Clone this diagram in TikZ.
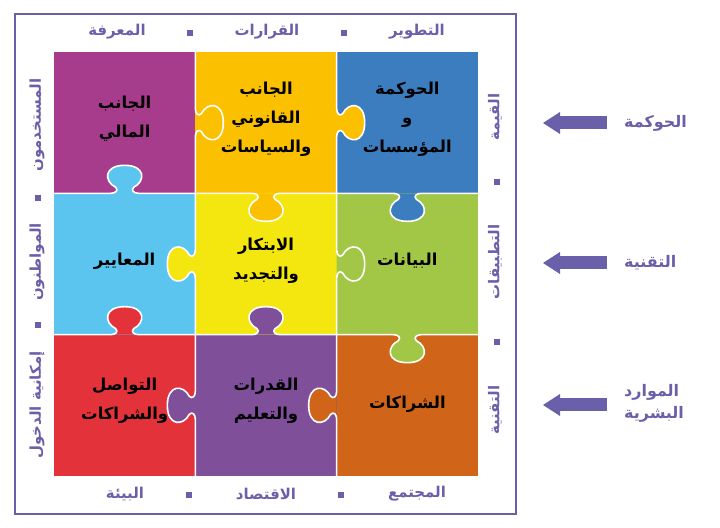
\documentclass[tikz,border=0pt]{standalone}
\usepackage{fontspec}
\usetikzlibrary{arrows.meta}
\TeXXeTstate=1
\newfontfamily\arabicfont[Script=Arabic]{DejaVu Sans}
\newcommand\artxt[1]{\beginR #1\endR}
\definecolor{pcMagenta}{HTML}{A83C8C}
\definecolor{pcAmber}{HTML}{FBC000}
\definecolor{pcBlue}{HTML}{3B7DBF}
\definecolor{pcSky}{HTML}{5BC5F0}
\definecolor{pcYellow}{HTML}{F4E60F}
\definecolor{pcGreen}{HTML}{A2C645}
\definecolor{pcRed}{HTML}{E3323A}
\definecolor{pcViolet}{HTML}{7F4F9A}
\definecolor{pcRust}{HTML}{D06418}
\definecolor{framePurple}{HTML}{6A60A9}

\begin{document}
\begin{tikzpicture}[x=1bp, y=1bp,
    celltext/.style={align=center, inner sep=0pt, text=black,
                     font=\arabicfont\bfseries\fontsize{16.5}{29}\selectfont},
    side/.style={inner sep=0pt, text=framePurple,
                 font=\arabicfont\bfseries\fontsize{15}{21}\selectfont},
    sq/.style={fill=framePurple, minimum size=5.5bp, inner sep=0pt},
    frame/.style={draw=framePurple, line width=2bp},
    seam/.style={draw=white, line width=1.6bp},
    knob/.style={insert path={.. controls (-9,0) and (-6,3) .. (-9,6)
                 .. controls (-21,12) and (-21,28) .. (0,28)
                 .. controls (21,28) and (21,12) .. (9,6)
                 .. controls (6,3) and (9,0) .. (14,0)}},
    bigarrow/.style={draw=framePurple, line width=13bp,
                     -{Triangle[length=17bp, width=22bp, line width=0pt]}}
    ]
  \useasboundingbox (0,0) rectangle (720,528);
  \draw[frame] (15,14) rectangle (516,514);

  %% puzzle cells
  \foreach \col/\cx/\cy in {pcMagenta/0/2, pcAmber/1/2, pcBlue/2/2,
                            pcSky/0/1, pcYellow/1/1, pcGreen/2/1,
                            pcRed/0/0, pcViolet/1/0, pcRust/2/0}
    \fill[\col] (54+141.33*\cx, 52+141.33*\cy) rectangle ++(141.33,141.33);

  %% tabs: x / y / turn / colour
  \foreach \kx/\ky/\kt/\kc in {124.67/334.67/0/pcSky, 266/334.67/180/pcAmber,
        407.33/334.67/180/pcBlue, 124.67/193.33/0/pcRed, 266/193.33/0/pcViolet,
        407.33/193.33/180/pcGreen, 195.33/405.33/-90/pcAmber,
        336.67/405.33/-90/pcAmber, 195.33/264/90/pcYellow,
        336.67/264/-90/pcGreen, 195.33/122.67/90/pcViolet,
        336.67/122.67/90/pcRust}
  {
    \begin{scope}[shift={(\kx,\ky)}, rotate=\kt]
      \fill[\kc] (-14,0) [knob] -- cycle;
      \draw[seam] (-70.67,0) -- (-14,0) [knob] -- (70.67,0);
    \end{scope}
  }

  %% texts of the pieces
  \node[celltext] (finance) at (124.67,409) {\artxt{الجانب}\\\artxt{المالي}};
  \node[celltext] (legal)   at (266,409)    {\artxt{الجانب}\\\artxt{القانوني}\\\artxt{والسياسات}};
  \node[celltext] (govern)  at (407.33,409) {\artxt{الحوكمة}\\\artxt{و}\\\artxt{المؤسسات}};
  \node[celltext] (norms)   at (124.67,267) {\artxt{المعايير}};
  \node[celltext] (innov)   at (266,267)    {\artxt{الابتكار}\\\artxt{والتجديد}};
  \node[celltext] (data)    at (407.33,267) {\artxt{البيانات}};
  \node[celltext] (comm)    at (124.67,127) {\artxt{التواصل}\\\artxt{والشراكات}};
  \node[celltext] (skills)  at (266,127)    {\artxt{القدرات}\\\artxt{والتعليم}};
  \node[celltext] (partner) at (407.33,124) {\artxt{الشراكات}};

  %% labels round the frame
  \node[side] (tKnow)  at (117,496) {\artxt{المعرفة}};
  \node[side] (tDecis) at (267,496) {\artxt{القرارات}};
  \node[side] (tDevel) at (417,496) {\artxt{التطوير}};
  \node[sq] (sqT1) at (190,495) {};
  \node[sq] (sqT2) at (344,495) {};
  \node[side] (bEnv)   at (125,34) {\artxt{البيئة}};
  \node[side] (bEcon)  at (266,34) {\artxt{الاقتصاد}};
  \node[side] (bSoc)   at (417,34) {\artxt{المجتمع}};
  \node[sq] (sqB1) at (189,33) {};
  \node[sq] (sqB2) at (341,33) {};
  \node[side, rotate=90] (lUsers)  at (37,403) {\artxt{المستخدمون}};
  \node[side, rotate=90] (lCitiz)  at (37,266) {\artxt{المواطنون}};
  \node[side, rotate=90] (lAccess) at (37,123) {\artxt{إمكانية الدخول}};
  \node[sq] (sqL1) at (38,330) {};
  \node[sq] (sqL2) at (38,203) {};
  \node[side, rotate=90] (rValue) at (495,411) {\artxt{القيمة}};
  \node[side, rotate=90] (rApps)  at (495,266) {\artxt{التطبيقات}};
  \node[side, rotate=90] (rTech)  at (495,118) {\artxt{التقنية}};
  \node[sq] (sqR1) at (497,346) {};
  \node[sq] (sqR2) at (497,186) {};

  %% arrows on the right
  \node[side, anchor=west, font=\arabicfont\bfseries\fontsize{16}{22}\selectfont]
      (aGov)  at (624,405) {\artxt{الحوكمة}};
  \node[side, anchor=west, font=\arabicfont\bfseries\fontsize{16}{22}\selectfont]
      (aTech) at (624,265) {\artxt{التقنية}};
  \node[side, anchor=west, align=left, font=\arabicfont\bfseries\fontsize{16}{22}\selectfont]
      (aHum) at (624,125) {\artxt{الموارد}\\\artxt{البشرية}};
  \coordinate (tipGov)  at (543,405);
  \coordinate (tipTech) at (543,265);
  \coordinate (tipHum)  at (543,123);
  \draw[bigarrow] ([xshift=-17bp]tipGov -| aGov.west) -- (tipGov);
  \draw[bigarrow] ([xshift=-17bp]tipTech -| aTech.west) -- (tipTech);
  \draw[bigarrow] ([xshift=-17bp]tipHum -| aHum.west) -- (tipHum);
\end{tikzpicture}
\end{document}
